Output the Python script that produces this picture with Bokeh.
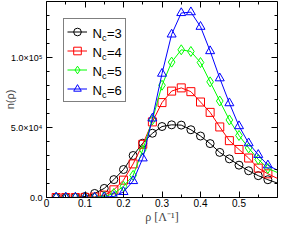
from bokeh.plotting import figure
from bokeh.models import (Range1d, LinearAxis, FixedTicker, Legend, LegendItem, Label,
                          CustomJSTickFormatter, ColumnDataSource, CDSView, BooleanFilter,
                          AllLabels)
from bokeh.core.properties import value
from bokeh.embed import file_html
from bokeh.resources import INLINE

# ---------------- data ----------------
rho = [0.025, 0.05, 0.075, 0.1, 0.125, 0.15, 0.175, 0.2, 0.225, 0.25, 0.275, 0.3,
       0.325, 0.35, 0.375, 0.4, 0.425, 0.45, 0.475, 0.5, 0.525, 0.55, 0.575, 0.6]
n_nc3 = [0, 0, 100, 700, 2900, 6500, 12800, 20000, 30000, 38800, 45900, 50700,
         51900, 51700, 48400, 43900, 38500, 32200, 27600, 23100, 19100, 15600, 12700, 10300]
n_nc4 = [0, 0, 0, 50, 300, 1700, 5500, 12400, 24000, 38000, 54000, 67800,
         76000, 78300, 75600, 68200, 60800, 50400, 40600, 34300, 28200, 21000, 16900, 13600]
n_nc5 = [0, 0, 0, 0, 100, 700, 2900, 8000, 15800, 34000, 55500, 80200,
         96700, 105500, 104300, 96400, 82600, 68900, 55400, 44300, 35400, 27200, 20800, 17800]
n_nc6 = [0, 0, 0, 0, 0, 200, 700, 4000, 11800, 28000, 56500, 88500,
         116500, 131800, 132400, 122000, 104600, 85200, 67400, 51000, 38800, 30500, 23000, 19500]
series_nc = ["3", "4", "5", "6"]
series_values = [n_nc3, n_nc4, n_nc5, n_nc6]

x_ticks = [0.0, 0.1, 0.2, 0.3, 0.4, 0.5]
x_tick_labels = ["0", "0.1", "0.2", "0.3", "0.4", "0.5"]
x_minor_ticks = [0.05, 0.15, 0.25, 0.35, 0.45, 0.55]
y_ticks = [0.0, 50000.0, 100000.0]
y_tick_labels = ["0.0", "5.0×10⁴", "1.0×10⁵"]
y_minor_ticks = [10000, 20000, 30000, 40000, 60000, 70000, 80000, 90000,
                 110000, 120000, 130000]
X_MIN, X_MAX = -1e-9, 0.6
Y_MAX = 140000

# ---------------- styles ----------------
colors = ["#000000", "#ff0000", "#00ff00", "#0000ff"]
markers = ["circle", "square", "diamond", "triangle"]
msizes = [8, 8, 10, 9]
SANS = "Liberation Sans"
SERIF = "Liberation Serif"

W, H = 278, 226
p = figure(width=W, height=H, x_range=Range1d(X_MIN, X_MAX), y_range=Range1d(0, Y_MAX),
           output_backend="svg", toolbar_location=None,
           min_border_left=41, min_border_right=1, min_border_top=1, min_border_bottom=20)
p.grid.visible = False
p.outline_line_color = "black"
p.background_fill_color = "white"
p.border_fill_color = "white"

LABEL_JS = """
const i = vals.findIndex(v => Math.abs(v - tick) < 1e-9 * Math.max(1, Math.abs(v)));
return i >= 0 ? labs[i] : '';
"""


def style_axis(ax, ticks, minor, labels, show_labels, font_size):
    ax.ticker = FixedTicker(ticks=ticks, minor_ticks=minor)
    ax.major_tick_in = 6
    ax.major_tick_out = 0
    ax.minor_tick_in = 3
    ax.minor_tick_out = 0
    ax.axis_line_color = "black"
    ax.major_tick_line_color = "black"
    ax.minor_tick_line_color = "black"
    if show_labels:
        ax.formatter = CustomJSTickFormatter(args=dict(vals=ticks, labs=labels), code=LABEL_JS)
        ax.major_label_policy = AllLabels()
        ax.major_label_text_font = SANS
        ax.major_label_text_font_size = font_size
        ax.major_label_text_color = "black"
        ax.major_label_text_line_height = 1.0
    else:
        ax.formatter = CustomJSTickFormatter(code="return ''")
        ax.major_label_text_font_size = "0px"
        ax.major_label_standoff = 0


xb = p.xaxis[0]
style_axis(xb, x_ticks, x_minor_ticks, x_tick_labels, True, "10px")
xb.major_label_standoff = 1
xb.axis_label = "ρ [Λ⁻¹]"
xb.axis_label_text_font = SERIF
xb.axis_label_text_font_size = "12px"
xb.axis_label_text_font_style = "normal"
xb.axis_label_text_line_height = 0.6
xb.axis_label_standoff = 0

yl = p.yaxis[0]
style_axis(yl, y_ticks, y_minor_ticks, y_tick_labels, True, "9px")
yl.major_label_standoff = 4
yl.axis_label = "n(ρ)"
yl.axis_label_text_font = SANS
yl.axis_label_text_font_size = "11px"
yl.axis_label_text_font_style = "normal"
yl.axis_label_text_line_height = 1.0
yl.axis_label_standoff = -8

# mirrored tick marks on top and right
xt = LinearAxis(fixed_location=Y_MAX)
style_axis(xt, x_ticks, x_minor_ticks, x_tick_labels, False, "0px")
p.add_layout(xt, "above")
yr = LinearAxis(fixed_location=X_MAX)
style_axis(yr, y_ticks, y_minor_ticks, y_tick_labels, False, "0px")
p.add_layout(yr, "right")

# ---------------- series ----------------
visible = [r < X_MAX for r in rho]
items = []
for nc, vals, col, mk, ms in zip(series_nc, series_values, colors, markers, msizes):
    src = ColumnDataSource(dict(x=rho, y=vals))
    lr = p.line("x", "y", source=src, line_color=col, line_width=1)
    sr = p.scatter("x", "y", source=src, view=CDSView(filter=BooleanFilter(visible)),
                   marker=mk, size=ms, line_color=col, line_width=1, fill_color=None)
    items.append(LegendItem(label=value(" "), renderers=[lr, sr]))

# ---------------- legend (box + samples) ----------------
LEG_X, LEG_Y = 17, 95
PAD, ROW, GW, STAND, LW = 3, 19, 20, 6, 29
legend = Legend(items=items, location=(LEG_X, LEG_Y), padding=PAD, spacing=0,
                glyph_width=GW, glyph_height=ROW, label_height=ROW, label_width=LW,
                label_standoff=STAND, margin=0, border_line_color="black",
                border_line_width=1, background_fill_alpha=0.0,
                label_text_font_size="13px")
p.add_layout(legend)

# legend texts with subscript: N_c = k
top = LEG_Y + 4 * ROW + 2 * PAD
tx = LEG_X + PAD + GW + STAND
FS_N, FS_C = 13, 9
for i, nc in enumerate(series_nc):
    ry = top - PAD - ROW * (i + 0.5)
    p.add_layout(Label(x=tx, y=ry, x_units="screen", y_units="screen", text="N",
                       text_font=SANS, text_font_size=f"{FS_N}px", text_baseline="middle",
                       text_align="left", text_color="black", level="overlay"))
    p.add_layout(Label(x=tx + 0.722 * FS_N, y=ry - 4.5, x_units="screen", y_units="screen",
                       text="c", text_font=SANS, text_font_size=f"{FS_C}px",
                       text_baseline="alphabetic", text_align="left", text_color="black",
                       level="overlay"))
    p.add_layout(Label(x=tx + 0.722 * FS_N + 0.5 * FS_C + 0.5, y=ry, x_units="screen",
                       y_units="screen", text="=" + nc, text_font=SANS,
                       text_font_size=f"{FS_N}px", text_baseline="middle",
                       text_align="left", text_color="black", level="overlay"))

open("out.html", "w").write(file_html(p, INLINE))
